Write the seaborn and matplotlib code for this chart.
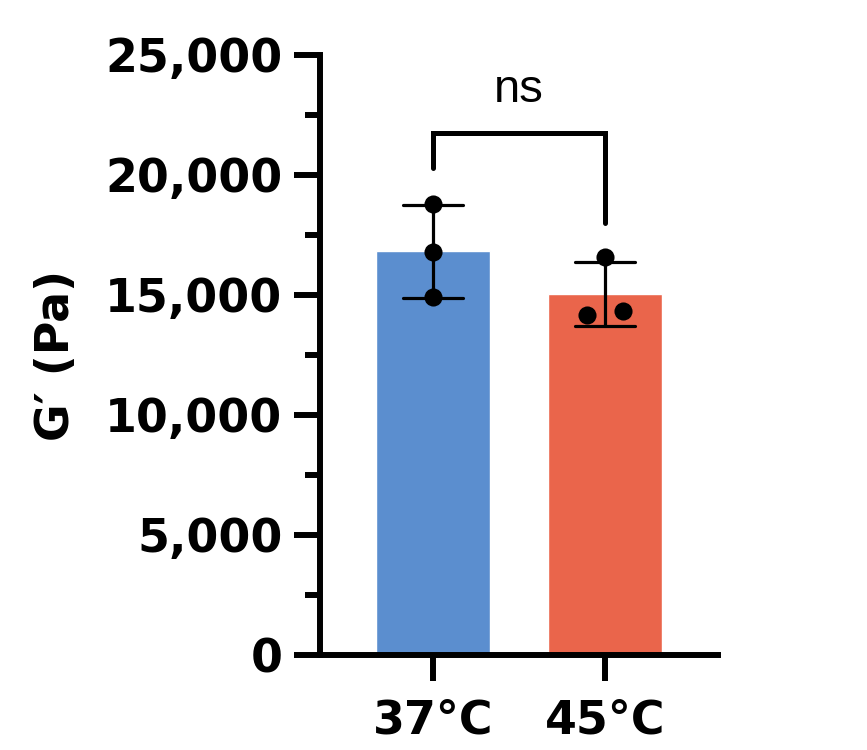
import numpy as np
import pandas as pd
import matplotlib
matplotlib.use("Agg")
import matplotlib.pyplot as plt
from matplotlib.ticker import MultipleLocator, StrMethodFormatter
import seaborn as sns

# values (Pa)
temps = ["37°C", "45°C"]
g_37 = [18780, 16780, 14900]
g_45 = [16570, 14170, 14350]
bar_colors = ["#5B8ECF", "#EA654B"]

# significance bracket: left leg end, top, right leg end
bracket_y = [20290, 21750, 18000]
sig_label = "ns"

df = pd.DataFrame({
    "temp": [temps[0]] * len(g_37) + [temps[1]] * len(g_45),
    "G": g_37 + g_45,
})

sns.set_style("ticks", rc={"text.color": "black", "axes.labelcolor": "black",
                           "xtick.color": "black", "ytick.color": "black",
                           "axes.edgecolor": "black"})
plt.rcParams["font.family"] = ["DejaVu Sans"]
plt.rcParams["font.weight"] = "bold"

fig = plt.figure(figsize=(8.67, 7.5), dpi=100)
ax = fig.add_axes([0.369, 0.1267, 0.459, 0.8])

sns.barplot(data=df, x="temp", y="G", hue="temp", palette=bar_colors,
            order=temps, hue_order=temps, errorbar="sd", capsize=0.35,
            err_kws={"color": "black", "linewidth": 2.3},
            width=0.663, saturation=1, legend=False, ax=ax)

# individual replicates, spread a little where they overlap
spread = {0: [0, 0, 0], 1: [0, -0.105, 0.105]}
for i, vals in enumerate([g_37, g_45]):
    ax.scatter(np.array(spread[i]) + i, vals, s=170, color="black",
               zorder=5, linewidths=0)

# bracket + label
ax.plot([0, 0, 1, 1], [bracket_y[0], bracket_y[1], bracket_y[1], bracket_y[2]],
        color="black", lw=3.6, solid_capstyle="round", solid_joinstyle="miter",
        clip_on=False, zorder=6)
ax.text(0.5, 23040, sig_label, ha="center", va="baseline", fontsize=34,
        fontweight="normal", family="Liberation Sans", color="black")

ax.set_xlim(-0.657, 1.657)
ax.set_ylim(0, 25000)
ax.yaxis.set_major_locator(MultipleLocator(5000))
ax.yaxis.set_minor_locator(MultipleLocator(2500))
ax.yaxis.set_major_formatter(StrMethodFormatter("{x:,.0f}"))

ax.set_xlabel("")
ax.set_ylabel("G′ (Pa)", fontsize=33, fontweight="bold", labelpad=19)

sns.despine(ax=ax)
for s in ["left", "bottom"]:
    ax.spines[s].set_linewidth(4.3)
    ax.spines[s].set_color("black")
ax.tick_params(axis="both", which="major", length=19, width=4.3,
               labelsize=33, pad=8, color="black", labelcolor="black")
ax.tick_params(axis="y", which="minor", length=10.5, width=4.3, color="black")
ax.tick_params(axis="x", pad=12)
for lab in ax.get_xticklabels() + ax.get_yticklabels():
    lab.set_fontweight("bold")

fig.savefig("out.png", dpi=100)
